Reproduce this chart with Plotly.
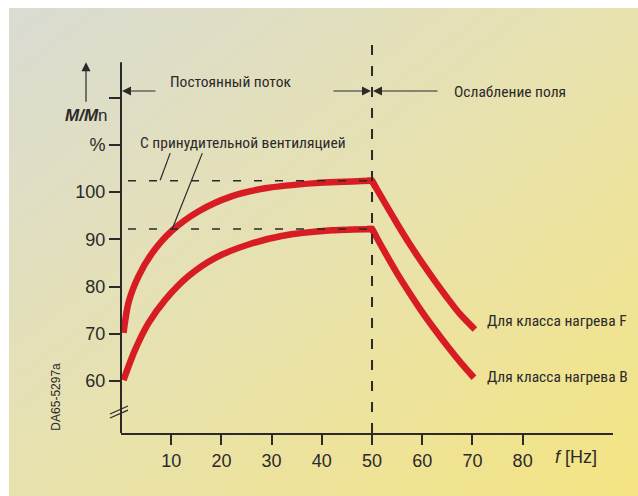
import base64
import plotly.graph_objects as go

# ---- data ----
f_rise_x = [0.5, 1.5, 3.5, 6.2, 10.0, 15.4, 22.0, 28.7, 38.7, 50.0]
f_rise_y = [70.2, 76.6, 82.2, 87.1, 91.7, 95.9, 99.1, 100.8, 101.9, 102.4]
f_fall_x = [50.0, 52.5, 55.0, 57.5, 60.0, 62.5, 65.0, 67.5, 70.5]
f_fall_y = [102.4, 97.8, 93.3, 89.0, 85.0, 81.2, 77.6, 74.2, 70.9]

b_rise_x = [0.5, 2.8, 5.5, 8.8, 13.4, 18.8, 25.4, 32.0, 42.0, 50.0]
b_rise_y = [60.2, 66.6, 72.3, 77.2, 82.2, 86.1, 88.9, 90.7, 91.9, 92.2]
b_fall_x = [50.0, 52.5, 55.0, 57.5, 60.0, 62.5, 65.0, 67.5, 70.3]
b_fall_y = [92.2, 87.4, 82.8, 78.6, 74.6, 70.9, 67.4, 64.1, 60.7]

x_ticks = [10, 20, 30, 40, 50, 60, 70, 80]
y_ticks = [60, 70, 80, 90, 100, 110, 120]
y_ticktext = ["60", "70", "80", "90", "100", "%", ""]

label_const = "Постоянный поток"
label_weak = "Ослабление поля"
label_vent = "С принудительной вентиляцией"
label_F = "Для класса нагрева F"
label_B = "Для класса нагрева B"
doc_code = "DA65-5297a"

RED = "#d81c24"
INK = "#2b2a29"
NARROW = "Roboto Condensed, Liberation Sans Narrow, sans-serif"
SANS = "Liberation Sans, Arial, sans-serif"

X_RANGE = [0, 98]
Y_RANGE = [49, 132.2]

fig = go.Figure()
for rx, ry, fx, fy in [(f_rise_x, f_rise_y, f_fall_x, f_fall_y),
                       (b_rise_x, b_rise_y, b_fall_x, b_fall_y)]:
    fig.add_trace(go.Scatter(x=rx, y=ry, mode="lines",
                             line=dict(color=RED, width=6.5, shape="spline", smoothing=0.8),
                             hoverinfo="skip", showlegend=False))
    fig.add_trace(go.Scatter(x=fx, y=fy, mode="lines",
                             line=dict(color=RED, width=6.5, shape="spline", smoothing=0.8),
                             hoverinfo="skip", showlegend=False))
    # sharp corner at 50 Hz (joins the two segments)
    fig.add_trace(go.Scatter(x=[rx[-1] - 1.0, rx[-1], fx[1] * 0.3 + fx[0] * 0.7],
                             y=[ry[-1], ry[-1], fy[1] * 0.3 + fy[0] * 0.7], mode="lines",
                             line=dict(color=RED, width=6.5),
                             hoverinfo="skip", showlegend=False))

# background gradient panel
svg = ('<svg xmlns="http://www.w3.org/2000/svg" width="629" height="488" viewBox="0 0 629 488">'
       '<defs><linearGradient id="g" x1="0" y1="0" x2="1" y2="1">'
       '<stop offset="0" stop-color="#dadbd3"/><stop offset="0.5" stop-color="#e8e2ae"/>'
       '<stop offset="1" stop-color="#f4e482"/></linearGradient></defs>'
       '<rect width="629" height="488" fill="url(#g)"/></svg>')
src = "data:image/svg+xml;base64," + base64.b64encode(svg.encode()).decode()
PW, PH = 492, 393
fig.add_layout_image(dict(source=src, xref="paper", yref="paper",
                          x=(9 - 121) / PW, y=(433 - 8) / PH,
                          sizex=629 / PW, sizey=488 / PH,
                          sizing="stretch", xanchor="left", yanchor="top",
                          layer="below"))

shapes = []
# y axis line
shapes.append(dict(type="line", xref="x domain", yref="y", x0=0, x1=0, y0=Y_RANGE[0], y1=127.5,
                   line=dict(color=INK, width=2)))
# vertical dashed line at 50 Hz
shapes.append(dict(type="line", xref="x", yref="y", x0=50, x1=50, y0=Y_RANGE[0], y1=131.8,
                   line=dict(color=INK, width=2, dash="10px,11px")))
# horizontal dashed reference lines
for yv in (f_rise_y[-1], b_rise_y[-1]):
    shapes.append(dict(type="line", xref="x", yref="y", x0=1.4, x1=50, y0=yv, y1=yv,
                       line=dict(color=INK, width=1.6, dash="8px,13px")))
# leader lines from the ventilation label
shapes.append(dict(type="line", xref="x", yref="y", x0=9.8, y0=108.25, x1=7.8, y1=102.5,
                   line=dict(color=INK, width=1.2)))
shapes.append(dict(type="line", xref="x", yref="y", x0=16.2, y0=108.25, x1=10.2, y1=92.2,
                   line=dict(color=INK, width=1.2)))
# axis break marks
for dy in (0, 0.85):
    shapes.append(dict(type="line", xref="paper", yref="y",
                       x0=(110 - 121) / PW, x1=(128 - 121) / PW,
                       y0=52.17 + dy, y1=53.86 + dy,
                       line=dict(color=INK, width=1.3)))

ann = []
def txt(x, y, s, size=15.5, font=NARROW, xanchor="left", xref="x", yref="y", **kw):
    ann.append(dict(x=x, y=y, xref=xref, yref=yref, text=s, showarrow=False,
                    xanchor=xanchor, yanchor="middle",
                    font=dict(family=font, size=size, color=INK), **kw))

txt(9.4, 123.4, label_const)
txt(66.0, 121.2, label_weak)
txt(3.4, 110.4, label_vent)
txt(72.6, 72.8, label_F)
txt(72.6, 60.9, label_B)
txt((110 - 121) / PW, 116.3, "<b><i>M/M</i></b>n", size=17, font=SANS, xanchor="right", xref="paper")
txt((56 - 121) / PW, 56.7, doc_code, size=12, font=SANS, xanchor="center", xref="paper", textangle=-90)
txt((553 - 121) / PW, (433 - 457) / PH, "<i>f</i> [Hz]", size=18, font=SANS, xref="paper", yref="paper")

def arrow(x, y, ax, ay, xref="x"):
    ann.append(dict(x=x, y=y, xref=xref, yref="y", ax=ax, ay=ay, text="",
                    showarrow=True, arrowhead=2, arrowsize=1.5, arrowwidth=1.2,
                    arrowcolor=INK, standoff=0))

arrow(0.2, 121.4, 35, 0)
arrow(49.8, 121.4, -39, 0)
arrow(50.2, 121.4, 66, 0)
arrow((86 - 121) / PW, 127.5, 0, 41, xref="paper")

fig.update_layout(
    width=638, height=496,
    margin=dict(l=121, r=25, t=40, b=63, autoexpand=False),
    paper_bgcolor="white", plot_bgcolor="rgba(0,0,0,0)",
    shapes=shapes, annotations=ann,
    xaxis=dict(range=X_RANGE, showgrid=False, zeroline=False, showline=True,
               linecolor=INK, linewidth=2, ticks="outside", ticklen=10, tickwidth=2,
               tickcolor=INK, tickvals=x_ticks,
               tickfont=dict(family=SANS, size=18, color=INK)),
    yaxis=dict(range=Y_RANGE, showgrid=False, zeroline=False, showline=False,
               ticks="outside", ticklen=11, tickwidth=2, tickcolor=INK,
               tickvals=y_ticks, ticktext=y_ticktext,
               tickfont=dict(family=SANS, size=18, color=INK)),
)

fig.write_html("out.html", config={"displayModeBar": False},
               post_script="document.body.style.margin='0';")
